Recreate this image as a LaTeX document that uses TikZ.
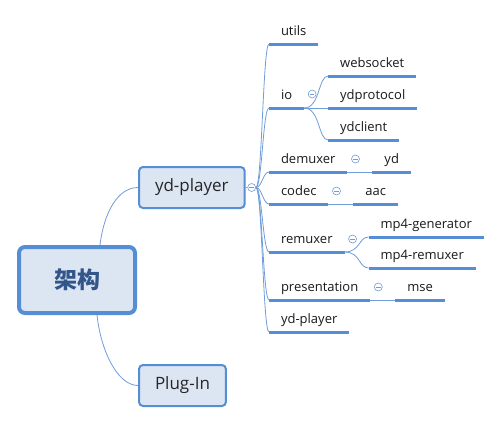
\documentclass[tikz,border=0pt]{standalone}
\usepackage{fontspec}
\setmainfont{Open Sans}
\newfontfamily\cjk{Noto Sans CJK SC}
\usetikzlibrary{calc,positioning}
\definecolor{mapblue}{RGB}{85,142,213}
\definecolor{mapfill}{RGB}{220,230,242}
\definecolor{maptext}{RGB}{50,86,138}
\definecolor{linkblue}{RGB}{112,156,216}
\tikzset{
	topic/.style={draw=mapblue, fill=mapfill, rounded corners=4pt, line width=2pt, anchor=west, inner xsep=16pt, minimum height=41pt, font=\fontsize{17}{20}\selectfont, text=black!85},
	leaf/.style={anchor=south west, inner xsep=12pt, inner ysep=0pt, outer sep=0pt, text height=9.5pt, text depth=8.5pt, font=\fontsize{13}{15}\selectfont, text=black!90, append after command={(\tikzlastnode.south west) edge[uline] (\tikzlastnode.south east)}},
	uline/.style={draw=mapblue, line width=3pt},
	link/.style={draw=linkblue, line width=0.8pt},
	fold/.style={circle, draw=linkblue, fill=white, inner sep=0pt, minimum size=8pt, line width=0.6pt, path picture={\draw[linkblue, line width=0.6pt] ([xshift=-2.3pt]path picture bounding box.center) -- ([xshift=2.3pt]path picture bounding box.center);}}
}

\begin{document}
\begin{tikzpicture}[x=1pt, y=-1pt]
		%%%%% START %%%%%
		\useasboundingbox (0,0) rectangle (502,423);
		
		\node[topic] (ydp) at (138,187.5) {yd-player};
		\node[topic] (plugin) at (138,385.5) {Plug-In};
		\draw[link] ([xshift=23pt]77,245) .. controls (104,212) and (118,187.5) .. (ydp.west);
		\draw[link] ([xshift=20pt]77,315) .. controls (101,352) and (118,385.5) .. (plugin.west);
		\node[draw=mapblue, fill=mapfill, rounded corners=6pt, line width=4pt, minimum width=116pt, minimum height=66pt, font=\cjk\bfseries\fontsize{23}{26}\selectfont, text=maptext] (arch) at (77,280) {架构};
		
		\node[fold] (f0) at ($(ydp.east)+(6,0)$) {};
		\draw[link] (ydp.east) -- (f0.west);
		
		% first level
		\node[leaf] (utils) at (269,44) {utils};
		\node[leaf] (io) at (269,108) {io};
		\node[leaf] (demuxer) at (269,172) {demuxer};
		\node[leaf] (codec) at (269,204) {codec};
		\node[leaf] (remuxer) at (269,252) {remuxer};
		\node[leaf] (presentation) at (269,300) {presentation};
		\node[leaf] (ydpl) at (269,332) {yd-player};
		
		\foreach \n in {utils,io,demuxer,codec,remuxer,presentation,ydpl}
			\draw[link] (f0.east) .. controls +(6,0) and +(-6,0) .. (\n.south west);
		
		% io
		\node[fold] (f1) at ($(io.south east)+(8,-14)$) {};
		\node[leaf] (websocket) at ($(io.south east)+(24,-32)$) {websocket};
		\node[leaf] (ydprotocol) at ($(io.south east)+(24,0)$) {ydprotocol};
		\node[leaf] (ydclient) at ($(io.south east)+(24,32)$) {ydclient};
		\draw[link] (io.south east) -- (ydprotocol.south west);
		\draw[link] (io.south east) .. controls +(16,0) and +(-10,0) .. (websocket.south west);
		\draw[link] (io.south east) .. controls +(16,0) and +(-10,0) .. (ydclient.south west);
		
		% demuxer, codec
		\node[fold] (f2) at ($(demuxer.south east)+(8,-13)$) {};
		\node[leaf, right=25pt of demuxer] (yd) {yd};
		\draw[link] (demuxer.south east) -- (yd.south west);
		\node[fold] (f3) at ($(codec.south east)+(8,-13)$) {};
		\node[leaf, right=25pt of codec] (aac) {aac};
		\draw[link] (codec.south east) -- (aac.south west);
		
		% remuxer
		\node[fold] (f4) at ($(remuxer.south east)+(8,-13)$) {};
		\node[leaf] (mp4gen) at ($(remuxer.south east)+(24,-15)$) {mp4-generator};
		\node[leaf] (mp4rem) at ($(remuxer.south east)+(24,16)$) {mp4-remuxer};
		\draw[link] (remuxer.south east) .. controls +(16,0) and +(-10,0) .. (mp4gen.south west);
		\draw[link] (remuxer.south east) .. controls +(16,0) and +(-10,0) .. (mp4rem.south west);
		
		% presentation
		\node[fold] (f5) at ($(presentation.south east)+(8,-13)$) {};
		\node[leaf, right=25pt of presentation] (mse) {mse};
		\draw[link] (presentation.south east) -- (mse.south west);
		
		%%%%% END %%%%%
\end{tikzpicture}
\end{document}
